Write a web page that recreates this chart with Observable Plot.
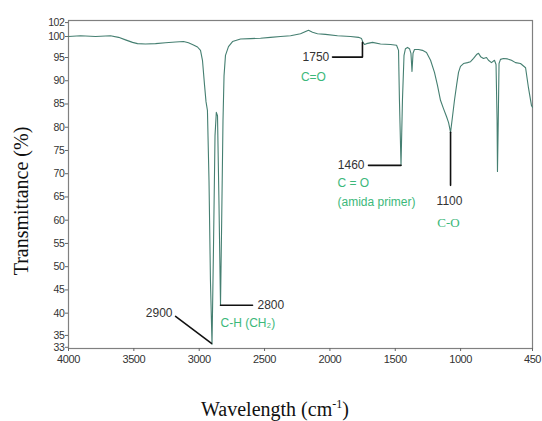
<!DOCTYPE html>
<html>
<head>
<meta charset="utf-8">
<script src="https://cdn.jsdelivr.net/npm/d3@7"></script>
<script src="https://cdn.jsdelivr.net/npm/@observablehq/plot@0.6"></script>
<style>
  html, body { margin: 0; padding: 0; background: #fff; }
  #chart { width: 542px; height: 421px; }
</style>
</head>
<body>
<div id="chart"></div>
<script>
// ---- Spectrum: wavenumber (cm-1) and transmittance (%) ----
const wavenumber = [4000, 3908, 3793, 3679, 3617, 3564, 3510, 3472, 3411, 3334, 3258, 3181, 3120, 3082, 3044, 3013, 2990, 2975, 2959, 2948, 2937, 2925, 2914, 2902, 2891, 2879, 2869, 2860, 2849, 2837, 2828, 2818, 2810, 2799, 2776, 2745, 2684, 2607, 2531, 2455, 2378, 2301, 2225, 2164, 2133, 2095, 2034, 1942, 1842, 1781, 1758, 1747, 1735, 1720, 1674, 1613, 1536, 1490, 1475, 1468, 1456, 1445, 1433, 1422, 1406, 1391, 1380, 1372, 1364, 1353, 1322, 1292, 1261, 1230, 1200, 1177, 1154, 1131, 1108, 1092, 1077, 1062, 1047, 1031, 1016, 1001, 978, 947, 924, 901, 878, 863, 847, 825, 802, 787, 764, 741, 729, 721, 718, 712, 706, 695, 672, 641, 611, 580, 542, 503, 481, 458, 450];
const transmittance = [100.0, 100.1, 100.0, 100.1, 99.8, 99.2, 98.6, 98.3, 98.2, 98.3, 98.5, 98.7, 98.8, 98.5, 98.0, 97.5, 96.7, 94.4, 89.0, 85.5, 83.6, 68.5, 47.0, 33.3, 53.5, 78.2, 83.2, 82.5, 64.2, 41.7, 59.9, 81.4, 91.1, 95.5, 97.6, 98.8, 99.4, 99.5, 99.6, 99.8, 100.0, 100.1, 100.4, 100.9, 100.6, 100.4, 100.3, 100.1, 100.0, 99.8, 99.5, 98.6, 98.1, 98.3, 98.6, 98.2, 98.1, 97.9, 96.7, 85.8, 71.8, 85.8, 95.5, 97.1, 97.4, 97.1, 96.0, 92.0, 96.0, 96.9, 96.9, 96.7, 96.2, 94.4, 91.8, 89.0, 85.8, 84.0, 82.3, 81.0, 78.9, 82.3, 85.8, 89.0, 91.8, 93.1, 93.7, 93.9, 94.1, 94.8, 95.7, 96.0, 95.2, 94.8, 95.0, 94.4, 93.9, 94.4, 93.5, 81.4, 70.5, 81.4, 93.7, 94.6, 94.8, 94.7, 94.4, 93.9, 93.7, 92.8, 88.5, 84.7, 84.3];

// ---- Axis ticks ----
const xTicks = [4000, 3500, 3000, 2500, 2000, 1500, 1000, 450];
const yTicks = [40, 45, 50, 55, 60, 65, 70, 75, 80, 85, 90, 95, 100, 102];
const yTicksLow = [33, 35];
// the printed y axis is not evenly spaced: values at its break points
const yAxisValues = [32.4, 95, 100, 102.3];

// ---- Band annotations: leader lines (wavenumber, transmittance) ----
const leader1750 = [[1751, 98.6], [1751, 95.1], [1980, 95.1]];
const leader1460 = [[1456, 71.8], [1705, 71.8]];
const leader1100 = [[1077, 78.9], [1077, 67.5]];
const leader2800 = [[2837, 41.7], [2592, 41.7]];
const leader2900 = [[2906, 33.5], [3181, 39.3]];

// ---- Band labels ----
const numberLabels = [
  {wn: 2005, t: 95.1, text: "1750", anchor: "end"},
  {wn: 1735, t: 71.8, text: "1460", anchor: "end"},
  {wn: 1085, t: 64.2, text: "1100", anchor: "middle"},
  {wn: 2554, t: 41.7, text: "2800", anchor: "start"},
  {wn: 3204, t: 39.9, text: "2900", anchor: "end"}
];
const groupLabels = [
  {wn: 2126, t: 90.7, text: "C=O", anchor: "middle"},
  {wn: 1942, t: 67.9, text: "C = O", anchor: "start"},
  {wn: 1942, t: 63.9, text: "(amida primer)", anchor: "start"},
  {wn: 2837, t: 37.8, text: "C-H (CH\u2082)", anchor: "start"}
];
const serifLabels = [
  {wn: 1093, t: 59.5, text: "C-O", anchor: "middle"}
];

const spectrum = wavenumber.map((w, i) => ({wn: w, t: transmittance[i]}));
const toRows = pts => pts.map(([wn, t]) => ({wn, t}));

const sans = "'Liberation Sans', Arial, sans-serif";
const serif = "'Liberation Serif', 'Times New Roman', serif";
const green = "#3cb87a";

const textMarks = (rows, fill, fontSize, fontFamily) =>
  ["start", "middle", "end"].map(a =>
    Plot.text(rows.filter(d => d.anchor === a), {
      x: "wn", y: "t", text: "text", textAnchor: a, fill, fontSize, fontFamily
    }));

const yAxisOpts = {tickSize: 3, tickPadding: 1, tickFormat: d => String(d), label: null, stroke: "#666", fontSize: 10.5};

const chart = Plot.plot({
  width: 542,
  height: 421,
  marginLeft: 68,
  marginRight: 10,
  marginTop: 20,
  marginBottom: 73,
  style: {fontFamily: sans, fontSize: "11px", color: "#333", background: "#fff", letterSpacing: "-0.4px"},
  x: {type: "linear", domain: [4000, 450]},
  y: {type: "linear", domain: yAxisValues, range: [348, 57, 36, 20]},
  marks: [
    Plot.frame({stroke: "#808080", strokeWidth: 1.2}),
    Plot.axisX({ticks: xTicks, tickSize: 3, tickPadding: 4, tickFormat: d => String(d), label: null, stroke: "#666"}),
    Plot.axisY({...yAxisOpts, ticks: yTicks}),
    Plot.axisY({...yAxisOpts, ticks: [yTicksLow[1]], dy: -1}),
    Plot.axisY({...yAxisOpts, ticks: [yTicksLow[0]], dy: 1.6}),
    Plot.line(spectrum, {x: "wn", y: "t", stroke: "#457f71", strokeWidth: 1.1}),
    ...[leader1750, leader1460, leader1100, leader2800, leader2900].map(l =>
      Plot.line(toRows(l), {x: "wn", y: "t", stroke: "#111", strokeWidth: 1.6})),
    ...textMarks(numberLabels, "#333", 12, sans),
    ...textMarks(groupLabels, green, 12, sans),
    ...textMarks(serifLabels, green, 13, serif)
  ]
});

document.getElementById("chart").appendChild(chart);
const svg = d3.select(chart);
// annotation texts use normal spacing
svg.selectAll("g[aria-label='text'] text").style("letter-spacing", "0px");

// Axis titles
svg.append("text")
  .attr("transform", "translate(21,201) rotate(-90)")
  .attr("text-anchor", "middle")
  .attr("dominant-baseline", "central")
  .attr("font-family", serif)
  .attr("font-size", 20)
  .attr("letter-spacing", 0)
  .attr("fill", "#111")
  .text("Transmittance (%)");

const xt = svg.append("text")
  .attr("x", 275).attr("y", 416)
  .attr("text-anchor", "middle")
  .attr("font-family", serif)
  .attr("font-size", 20)
  .attr("letter-spacing", 0)
  .attr("fill", "#111");
xt.append("tspan").text("Wavelength (cm");
xt.append("tspan").attr("dy", -8).attr("font-size", 12).text("-1");
xt.append("tspan").attr("dy", 8).text(")");
</script>
</body>
</html>
